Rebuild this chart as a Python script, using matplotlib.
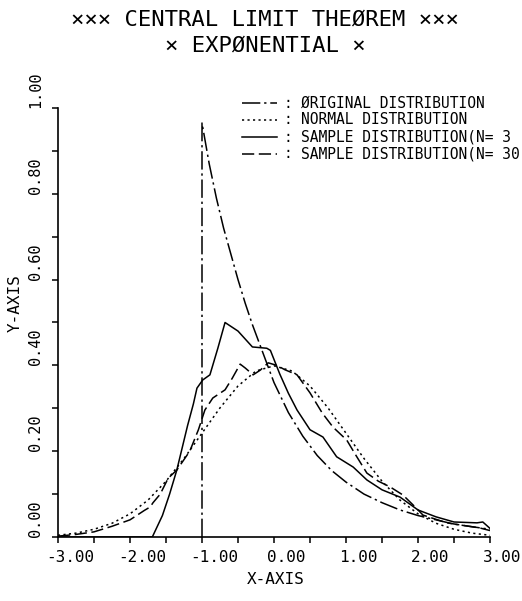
import numpy as np
import matplotlib
matplotlib.use("Agg")
import matplotlib.pyplot as plt
from matplotlib.ticker import MultipleLocator, FormatStrFormatter
from matplotlib.transforms import ScaledTranslation

plt.rcParams['font.family'] = ['DejaVu Sans Mono', 'DejaVu Sans']
plt.rcParams['axes.unicode_minus'] = False

# original (standardized exponential) density
orig_x = [-1.0, -1.0, -0.9, -0.8, -0.7, -0.6, -0.5, -0.4, -0.3, -0.2, -0.1, 0.0,
          0.2, 0.4, 0.6, 0.8, 1.0, 1.25, 1.5, 1.75, 2.0, 2.5, 3.0]
orig_y = [0.0, 0.965, 0.87, 0.79, 0.72, 0.66, 0.60, 0.545, 0.495, 0.45, 0.405, 0.36,
          0.29, 0.235, 0.19, 0.155, 0.128, 0.10, 0.08, 0.063, 0.05, 0.03, 0.018]

# standard normal density
norm_x = [-3.0, -2.75, -2.5, -2.25, -2.0, -1.75, -1.5, -1.25, -1.0, -0.75, -0.5, -0.25, 0.0,
          0.25, 0.5, 0.75, 1.0, 1.25, 1.5, 1.75, 2.0, 2.25, 2.5, 2.75, 3.0]
norm_y = [0.004, 0.009, 0.018, 0.032, 0.054, 0.086, 0.130, 0.183, 0.242, 0.301, 0.352, 0.387, 0.399,
          0.387, 0.352, 0.301, 0.242, 0.183, 0.130, 0.086, 0.054, 0.032, 0.018, 0.009, 0.004]

# sample mean distribution, n = 3
n3_x = [-3.0, -1.69, -1.55, -1.45, -1.35, -1.2, -1.12, -1.07, -0.99, -0.89, -0.78, -0.68,
        -0.5, -0.3, -0.1, -0.05, 0.08, 0.2, 0.32, 0.5, 0.68, 0.87, 1.1, 1.29, 1.5, 1.75,
        2.0, 2.25, 2.5, 2.82, 2.9, 3.0]
n3_y = [0.0, 0.0, 0.05, 0.10, 0.156, 0.26, 0.31, 0.347, 0.366, 0.378, 0.44, 0.50,
        0.48, 0.443, 0.44, 0.435, 0.38, 0.335, 0.296, 0.25, 0.233, 0.187, 0.163, 0.133, 0.11, 0.093,
        0.063, 0.047, 0.035, 0.033, 0.035, 0.02]

# sample mean distribution, n = 30
n30_x = [-3.0, -2.75, -2.5, -2.25, -2.0, -1.8, -1.72, -1.68, -1.58, -1.47, -1.35, -1.17,
         -1.05, -0.96, -0.85, -0.68, -0.58, -0.47, -0.40, -0.29, -0.19, -0.08, 0.04, 0.15,
         0.32, 0.5, 0.67, 0.82, 1.01, 1.15, 1.29, 1.45, 1.61, 1.79, 1.93, 2.07, 2.4, 2.86, 3.0]
n30_y = [0.002, 0.006, 0.012, 0.025, 0.04, 0.062, 0.07, 0.08, 0.10, 0.137, 0.156, 0.20,
         0.25, 0.296, 0.324, 0.343, 0.37, 0.403, 0.394, 0.378, 0.389, 0.406, 0.40, 0.39,
         0.378, 0.336, 0.289, 0.256, 0.226, 0.187, 0.149, 0.13, 0.117, 0.098, 0.075, 0.051,
         0.033, 0.021, 0.015]

legend_labels = ["ØRIGINAL DISTRIBUTION", "NORMAL DISTRIBUTION",
                 "SAMPLE DISTRIBUTION(N= 3", "SAMPLE DISTRIBUTION(N= 30"]

W, H = 522, 601
fig = plt.figure(figsize=(W / 100, H / 100), dpi=100)
ax = fig.add_axes([58 / W, 1 - 537 / H, 432 / W, 429 / H])

lw = 1.1
styles = [(0, (12, 2.5, 1.5, 2.5)), (0, (1.4, 2.2)), '-', (0, (8, 3))]
series = [(orig_x, orig_y), (norm_x, norm_y), (n3_x, n3_y), (n30_x, n30_y)]
for (xs, ys), ls in zip(series, styles):
    ax.plot(xs, ys, color='black', lw=lw, linestyle=ls)

ax.set_xlim(-3, 3)
ax.set_ylim(0, 1)
for s in ['top', 'right']:
    ax.spines[s].set_visible(False)
for s in ['left', 'bottom']:
    ax.spines[s].set_linewidth(1.2)

ax.xaxis.set_major_locator(MultipleLocator(1))
ax.xaxis.set_minor_locator(MultipleLocator(0.5))
ax.yaxis.set_major_locator(MultipleLocator(0.2))
ax.yaxis.set_minor_locator(MultipleLocator(0.1))
ax.xaxis.set_major_formatter(FormatStrFormatter('%.2f'))
ax.yaxis.set_major_formatter(FormatStrFormatter('%.2f'))
ax.tick_params(which='both', direction='out', length=4.5, width=1.1)
ax.tick_params(axis='x', labelsize=11.5, pad=5)
ax.tick_params(axis='y', labelsize=11, pad=6)

for lab in ax.get_xticklabels():
    lab.set_transform(lab.get_transform() + ScaledTranslation(0.12, 0, fig.dpi_scale_trans))
for lab in ax.get_yticklabels():
    lab.set_rotation(90)
    lab.set_va('bottom')

# titles and axis names
fig.text(265 / W, 1 - 20 / H, "××× CENTRAL LIMIT THEØREM ×××", ha='center', va='center', fontsize=16)
fig.text(265 / W, 1 - 46 / H, "× EXPØNENTIAL ×", ha='center', va='center', fontsize=16)
fig.text(276 / W, 1 - 580 / H, "X-AXIS", ha='center', va='center', fontsize=11.5)
fig.text(15 / W, 1 - 303 / H, "Y-AXIS", ha='center', va='center', fontsize=11.5, rotation=90)

# hand-drawn legend in figure pixels
rows = [103, 120, 137, 154]
for yy, ls, txt in zip(rows, styles, legend_labels):
    fy = 1 - yy / H
    fig.add_artist(plt.Line2D([242 / W, 277 / W], [fy, fy], color='black', lw=lw,
                              linestyle=ls, transform=fig.transFigure))
    fig.text(288 / W, fy, ":", ha='center', va='center', fontsize=10.5)
    fig.text(301 / W, fy, txt, ha='left', va='center', fontsize=10.5)

fig.savefig('out.png', dpi=100)
